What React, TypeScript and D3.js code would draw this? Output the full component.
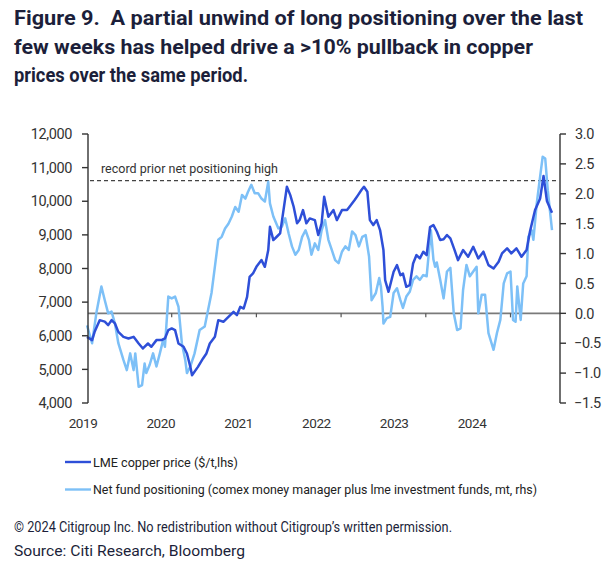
import React from "react";
import * as d3 from "d3";

// ---- data ----
const priceDates = [
  2019.0, 2019.06, 2019.09, 2019.15, 2019.21, 2019.25, 2019.29, 2019.33, 2019.37, 2019.43,
  2019.49, 2019.55, 2019.61, 2019.66, 2019.72, 2019.76, 2019.82, 2019.88, 2019.92, 2019.96,
  2020.0, 2020.04, 2020.08, 2020.14, 2020.18, 2020.22, 2020.24, 2020.31, 2020.37, 2020.41,
  2020.45, 2020.51, 2020.55, 2020.61, 2020.67, 2020.73, 2020.77, 2020.81, 2020.85, 2020.89,
  2020.92, 2020.96, 2021.0, 2021.06, 2021.1, 2021.14, 2021.16, 2021.2, 2021.24, 2021.28,
  2021.32, 2021.36, 2021.4, 2021.44, 2021.48, 2021.51, 2021.55, 2021.59, 2021.63, 2021.69,
  2021.73, 2021.77, 2021.8, 2021.85, 2021.91, 2021.95, 2022.01, 2022.07, 2022.1, 2022.16,
  2022.2, 2022.24, 2022.27, 2022.31, 2022.34, 2022.38, 2022.42, 2022.46, 2022.5, 2022.52,
  2022.56, 2022.62, 2022.66, 2022.7, 2022.73, 2022.77, 2022.81, 2022.85, 2022.89, 2022.93,
  2022.97, 2023.01, 2023.05, 2023.09, 2023.13, 2023.17, 2023.21, 2023.25, 2023.29, 2023.34,
  2023.38, 2023.44, 2023.5, 2023.56, 2023.62, 2023.68, 2023.74, 2023.8, 2023.86, 2023.9,
  2023.96, 2024.01, 2024.07, 2024.13, 2024.19, 2024.23, 2024.29, 2024.35, 2024.39, 2024.43,
  2024.49,
];
const priceValues = [
  5967, 5870, 6116, 6464, 6420, 6315, 6464, 6366, 6116, 5967,
  5920, 5967, 5770, 5622, 5770, 5672, 5870, 5870, 5920, 6167,
  6216, 6167, 5770, 5672, 5473, 5075, 4827, 5075, 5325, 5473,
  5770, 5967, 6464, 6415, 6563, 6711, 6613, 6860, 6810, 7158,
  7753, 7852, 8050, 8250, 8050, 8548, 9240, 8845, 8944, 9044,
  9738, 10432, 10183, 9837, 9343, 9440, 9738, 9343, 9490, 9440,
  8994, 9343, 10134, 9540, 9738, 9440, 9738, 9738, 9837, 10036,
  10183, 10333, 10432, 10283, 9440, 9292, 9440, 9143, 8548, 7655,
  7307, 7902, 8101, 7800, 7852, 7455, 7505, 8150, 8399, 8300,
  8498, 8399, 9230, 9292, 9100, 8845, 8870, 8994, 8895, 8548,
  8250, 8548, 8350, 8646, 8300, 8500, 8101, 8002, 8200, 8449,
  8600, 8449, 8600, 8350, 8548, 9100, 9738, 10085, 10750, 10010,
  9660,
];

const posDates = [
  2019.0, 2019.06, 2019.07, 2019.11, 2019.17, 2019.21, 2019.25, 2019.29, 2019.33, 2019.37,
  2019.43, 2019.47, 2019.51, 2019.55, 2019.57, 2019.61, 2019.65, 2019.68, 2019.7, 2019.74,
  2019.78, 2019.82, 2019.86, 2019.9, 2019.92, 2019.96, 2020.0, 2020.04, 2020.08, 2020.12,
  2020.16, 2020.18, 2020.22, 2020.27, 2020.33, 2020.39, 2020.43, 2020.47, 2020.51, 2020.55,
  2020.59, 2020.63, 2020.67, 2020.71, 2020.75, 2020.79, 2020.83, 2020.87, 2020.9, 2020.94,
  2020.98, 2021.02, 2021.06, 2021.1, 2021.14, 2021.16, 2021.2, 2021.26, 2021.3, 2021.34,
  2021.38, 2021.42, 2021.46, 2021.5, 2021.54, 2021.58, 2021.62, 2021.65, 2021.69, 2021.73,
  2021.77, 2021.81, 2021.85, 2021.89, 2021.93, 2021.97, 2022.01, 2022.05, 2022.09, 2022.13,
  2022.17, 2022.21, 2022.25, 2022.29, 2022.33, 2022.36, 2022.41, 2022.45, 2022.47, 2022.49,
  2022.5, 2022.54, 2022.58, 2022.62, 2022.66, 2022.7, 2022.73, 2022.77, 2022.81, 2022.85,
  2022.89, 2022.93, 2022.97, 2023.01, 2023.06, 2023.09, 2023.11, 2023.13, 2023.17, 2023.21,
  2023.25, 2023.29, 2023.33, 2023.37, 2023.41, 2023.44, 2023.48, 2023.52, 2023.56, 2023.6,
  2023.62, 2023.66, 2023.7, 2023.74, 2023.8, 2023.84, 2023.88, 2023.92, 2023.96, 2024.0,
  2024.03, 2024.06, 2024.08, 2024.12, 2024.15, 2024.19, 2024.21, 2024.25, 2024.27, 2024.31,
  2024.35, 2024.38, 2024.41, 2024.44, 2024.49,
];
const posValues = [
  -0.2, -0.5, -0.4, 0.0, 0.45, 0.22, 0.0, 0.03, -0.17, -0.5,
  -0.78, -0.95, -0.67, -0.95, -0.67, -1.23, -1.2, -0.84, -1.0, -0.86,
  -0.67, -0.89, -0.67, -0.44, -0.56, 0.28, 0.25, 0.28, 0.11, -0.5,
  -0.78, -1.0, -0.89, -0.67, -0.28, -0.22, 0.06, 0.34, 0.78, 1.23,
  1.28, 1.42, 1.5, 1.62, 1.78, 1.7, 1.98, 1.92, 2.03, 2.15,
  2.01, 2.01, 1.92, 1.87, 2.2, 1.84, 1.62, 1.42, 1.45, 1.59,
  1.34, 1.12, 0.98, 1.06, 1.28, 1.39, 1.23, 0.98, 1.17, 1.06,
  1.39, 1.56, 1.23, 1.06, 0.89, 0.84, 1.03, 1.12, 1.06, 1.37,
  1.31, 1.12, 1.28, 1.31, 0.95, 0.22, 0.34, 0.59, 0.45, 0.11,
  -0.17, -0.08, -0.06, 0.34, 0.42, 0.22, 0.09, 0.28, 0.36, 0.56,
  0.62, 0.56, 0.64, 0.62, 1.39, 0.9, 0.78, 0.85, 0.56, 0.25,
  0.7, 0.76, 0.0, -0.28, -0.25, 0.39, 0.81, 0.62, 0.7, 0.78,
  0.0, 0.31, 0.31, -0.33, -0.61, -0.33, -0.11, 0.5, 0.67, 0.7,
  -0.11, -0.14, 0.45, -0.11, 0.5, 0.62, 1.28, 1.39, 1.23, 1.84,
  2.29, 2.62, 2.59, 2.06, 1.39,
];

const recordHigh = 2.22;
const leftTicks = [4000, 5000, 6000, 7000, 8000, 9000, 10000, 11000, 12000];
const rightTicks = [-1.5, -1.0, -0.5, 0.0, 0.5, 1.0, 1.5, 2.0, 2.5, 3.0];
const yearTicks = [2019, 2020, 2021, 2022, 2023, 2024];

const titleLines = [
  "Figure 9.  A partial unwind of long positioning over the last",
  "few weeks has helped drive a >10% pullback in copper",
  "prices over the same period.",
];
const seriesNames = [
  "LME copper price ($/t,lhs)",
  "Net fund positioning (comex money manager plus lme investment funds, mt, rhs)",
];
const annotation = "record prior net positioning high";
const footer1 = "\u00A9 2024 Citigroup Inc. No redistribution without Citigroup\u2019s written permission.";
const footer2 = "Source: Citi Research, Bloomberg";

const DARK = "#2e4fd8";
const LIGHT = "#7dc0f7";
const TEXT = "#1c1f3a";
const AXIS = "#333";
const FONT = "Roboto, 'Liberation Sans', sans-serif";

export default function App() {
  const W = 610, H = 566;
  const x = d3.scaleLinear().domain([2019, 2025]).range([87, 87 + 6 * 84.7]);
  const xLab = d3.scaleLinear().domain([2019, 2024]).range([83, 472]);
  const yL = d3.scaleLinear().domain([4000, 12000]).range([403, 134]);
  const yR = d3.scaleLinear().domain([-1.5, 3.0]).range([403, 134]);
  const axL = 88, axR = 560;

  const priceLine = d3
    .line<number>()
    .x((_, i) => x(priceDates[i]))
    .y((d) => yL(d))(priceValues) as string;
  const posLine = d3
    .line<number>()
    .x((_, i) => x(posDates[i]))
    .y((d) => yR(d))(posValues) as string;

  const fmtL = d3.format(",");
  const fmtR = d3.format(".1f");
  const y0 = yR(0);

  return (
    <svg width={W} height={H} style={{ display: "block", position: "absolute", left: 0, top: 0, background: "#fff" }}>
      <rect width={W} height={H} fill="#fff" />
      {/* title */}
      {titleLines.map((t, i) => (
        <text
          key={i}
          x={14}
          y={25 + i * 28.5}
          fontFamily={FONT}
          fontWeight={700}
          fontSize={19.5}
          fill={TEXT}
          xmlSpace="preserve"
          style={{ whiteSpace: "pre" }}
          textLength={[569, 519, 234][i]}
          lengthAdjust="spacingAndGlyphs"
        >
          {t}
        </text>
      ))}

      {/* zero line */}
      <line x1={axL} x2={axR} y1={y0} y2={y0} stroke="#7a7a7a" strokeWidth={1.6} />
      {yearTicks.slice(1).map((yr) => (
        <line key={yr} x1={x(yr)} x2={x(yr)} y1={y0} y2={y0 + 4} stroke="#555" strokeWidth={1.2} />
      ))}

      {/* record line */}
      <line x1={axL + 2} x2={axR - 2} y1={yR(recordHigh)} y2={yR(recordHigh)} stroke="#444" strokeWidth={1.2} strokeDasharray="4,3" />
      <text x={101} y={yR(recordHigh) - 8} fontFamily={FONT} fontSize={12} fill="#333" textLength={177} lengthAdjust="spacingAndGlyphs">
        {annotation}
      </text>

      {/* series */}
      <path d={posLine} fill="none" stroke={LIGHT} strokeWidth={2.5} strokeLinejoin="round" />
      <path d={priceLine} fill="none" stroke={DARK} strokeWidth={2.5} strokeLinejoin="round" />

      {/* left axis */}
      <line x1={axL} x2={axL} y1={yL(12000)} y2={yL(4000)} stroke={AXIS} strokeWidth={1.4} />
      {leftTicks.map((t) => (
        <g key={t}>
          <line x1={axL - 6} x2={axL} y1={yL(t)} y2={yL(t)} stroke={AXIS} strokeWidth={1.4} />
          <text x={72} y={yL(t)} dy="0.36em" textAnchor="end" fontFamily={FONT} fontSize={14.5} fill="#333" letterSpacing={-0.4}>
            {fmtL(t)}
          </text>
        </g>
      ))}

      {/* right axis */}
      <line x1={axR} x2={axR} y1={yR(3)} y2={yR(-1.5)} stroke={AXIS} strokeWidth={1.4} />
      {rightTicks.map((t) => (
        <g key={t}>
          <line x1={axR} x2={axR + 6} y1={yR(t)} y2={yR(t)} stroke={AXIS} strokeWidth={1.4} />
          <text x={t < 0 ? 574 : 575} y={yR(t)} dy="0.36em" fontFamily={FONT} fontSize={14.5} fill="#333" letterSpacing={-0.4}>
            {t === 0 ? "0.0" : fmtR(t)}
          </text>
        </g>
      ))}

      {/* year labels */}
      {yearTicks.map((yr) => (
        <text key={yr} x={xLab(yr)} y={428} textAnchor="middle" fontFamily={FONT} fontSize={13.5} fill="#333" letterSpacing={-0.4}>
          {yr}
        </text>
      ))}

      {/* legend */}
      {seriesNames.map((n, i) => (
        <g key={n}>
          <line x1={65} x2={91} y1={462 + i * 27.5} y2={462 + i * 27.5} stroke={i === 0 ? DARK : LIGHT} strokeWidth={2.4} />
          <text
            x={93}
            y={462 + i * 27.5}
            dy="0.35em"
            fontFamily={FONT}
            fontSize={13.5}
            fill="#222"
            textLength={[145, 444][i]}
            lengthAdjust="spacingAndGlyphs"
          >
            {n}
          </text>
        </g>
      ))}

      {/* footer */}
      <text x={14} y={532} fontFamily={FONT} fontSize={14.5} fill={TEXT} textLength={438} lengthAdjust="spacingAndGlyphs">
        {footer1}
      </text>
      <text x={14} y={556} fontFamily={FONT} fontSize={15} fill={TEXT} textLength={231} lengthAdjust="spacingAndGlyphs">
        {footer2}
      </text>
    </svg>
  );
}
